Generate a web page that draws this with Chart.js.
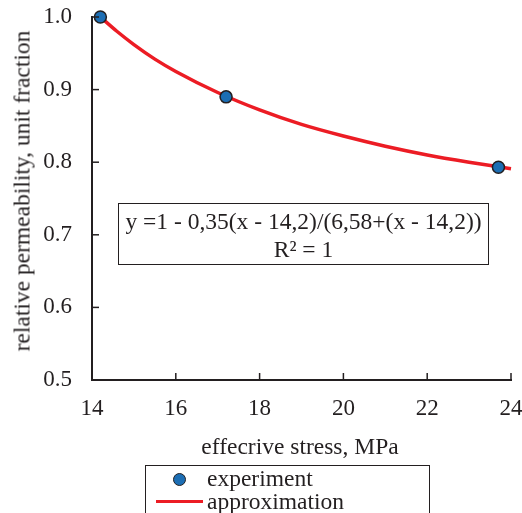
<!DOCTYPE html>
<html>
<head>
<meta charset="utf-8">
<script src="https://cdn.jsdelivr.net/npm/chart.js@4.4.0/dist/chart.umd.min.js"></script>
<style>
  html, body { margin: 0; padding: 0; background: #fff; }
  #wrap { position: relative; width: 522px; height: 513px; overflow: hidden; font-family: "Liberation Serif", "DejaVu Serif", serif; color: #231f20; }
  canvas { position: absolute; left: 0; top: 0; }
  .ov { position: absolute; white-space: nowrap; }
  #ytitle { left: 22px; top: 191px; font-size: 23.5px; transform: translate(-50%, -50%) rotate(-90deg); }
  #xtitle { left: 300px; top: 446px; font-size: 23.5px; transform: translate(-50%, -50%); }
  #eq { left: 118px; top: 203px; width: 369px; height: 60px; border: 1.5px solid #231f20; font-size: 23.5px; text-align: center; line-height: 28px; box-sizing: content-box; }
  #eq div:first-child { margin-top: 3px; }
  #legend { left: 145px; top: 465px; width: 283px; height: 60px; border: 1.5px solid #231f20; font-size: 23.5px; }
  .lg-dot { position: absolute; left: 27px; top: 7px; width: 11px; height: 11px; border-radius: 50%; background: #1c6eb4; border: 1.5px solid #231f20; }
  .lg-line { position: absolute; left: 10px; top: 34px; width: 47px; height: 3px; background: #ec1c24; }
  .lg-t1 { position: absolute; left: 61px; top: 0px; line-height: 24px; }
  .lg-t2 { position: absolute; left: 61px; top: 23px; line-height: 24px; }
</style>
</head>
<body>
<div id="wrap">
  <canvas id="c" width="522" height="513"></canvas>
  <div class="ov" id="ytitle">relative permeability, unit fraction</div>
  <div class="ov" id="xtitle">effecrive stress, MPa</div>
  <div class="ov" id="eq"><div>y =1 - 0,35(x - 14,2)/(6,58+(x - 14,2))</div><div>R² = 1</div></div>
  <div class="ov" id="legend">
    <div class="lg-dot"></div><div class="lg-t1">experiment</div>
    <div class="lg-line"></div><div class="lg-t2">approximation</div>
  </div>
</div>
<script>
// Experimental points
const expStress = [14.2, 17.2, 23.7];
const expPerm = [1.0, 0.89, 0.793];
// Approximation curve
const fitStress = [14.2, 14.6, 15.0, 15.5, 16.0, 17.0, 18.0, 19.0, 20.0, 21.0, 22.0, 23.0, 24.0];
const fitPerm = [1.0, 0.980, 0.962, 0.942, 0.925, 0.896, 0.872, 0.852, 0.836, 0.822, 0.810, 0.800, 0.791];
// Axis ticks
const xTicks = [14, 16, 18, 20, 22, 24];
const yTicks = [0.5, 0.6, 0.7, 0.8, 0.9, 1.0];

const ink = '#231f20';
const tickFont = { family: '"Liberation Serif", "DejaVu Serif", serif', size: 23 };

const innerTicks = {
  id: 'innerTicks',
  afterDraw(chart) {
    const ctx = chart.ctx, xs = chart.scales.x, ys = chart.scales.y;
    ctx.save();
    ctx.strokeStyle = ink;
    ctx.lineWidth = 1.5;
    yTicks.forEach(v => {
      const p = ys.getPixelForValue(v);
      ctx.beginPath(); ctx.moveTo(xs.left, p); ctx.lineTo(xs.left + 7, p); ctx.stroke();
    });
    xTicks.forEach(v => {
      const p = xs.getPixelForValue(v);
      ctx.beginPath(); ctx.moveTo(p, ys.bottom); ctx.lineTo(p, ys.bottom - 7); ctx.stroke();
    });
    ctx.restore();
  }
};

new Chart(document.getElementById('c'), {
  type: 'scatter',
  data: {
    datasets: [
      {
        type: 'scatter',
        label: 'experiment',
        data: expStress.map((x, i) => ({ x, y: expPerm[i] })),
        pointRadius: 6,
        pointBackgroundColor: '#1c6eb4',
        pointBorderColor: ink,
        pointBorderWidth: 1.5,
        clip: false,
        order: 0
      },
      {
        type: 'line',
        label: 'approximation',
        data: fitStress.map((x, i) => ({ x, y: fitPerm[i] })),
        borderColor: '#ec1c24',
        borderWidth: 3.5,
        pointRadius: 0,
        fill: false,
        cubicInterpolationMode: 'monotone',
        clip: false,
        order: 1
      }
    ]
  },
  options: {
    responsive: false,
    animation: false,
    devicePixelRatio: 1,
    layout: { padding: { left: 0, right: 11, top: 17, bottom: 0 } },
    plugins: { legend: { display: false }, tooltip: { enabled: false } },
    scales: {
      x: {
        type: 'linear', min: 14, max: 24,
        afterBuildTicks: s => { s.ticks = xTicks.map(v => ({ value: v })); },
        afterFit: s => { s.height = 133; s.paddingLeft = 0; s.paddingRight = 0; },
        grid: { display: false, drawTicks: false },
        border: { display: true, color: ink, width: 2 },
        ticks: { color: ink, font: tickFont, padding: 15, maxRotation: 0, callback: v => String(v) }
      },
      y: {
        type: 'linear', min: 0.5, max: 1.0,
        afterBuildTicks: s => { s.ticks = yTicks.map(v => ({ value: v })); },
        afterFit: s => { s.width = 92; s.paddingTop = 0; s.paddingBottom = 0; },
        grid: { display: false, drawTicks: false },
        border: { display: true, color: ink, width: 2 },
        ticks: { color: ink, font: tickFont, padding: 20, callback: v => Number(v).toFixed(1) }
      }
    }
  },
  plugins: [innerTicks]
});
</script>
</body>
</html>
